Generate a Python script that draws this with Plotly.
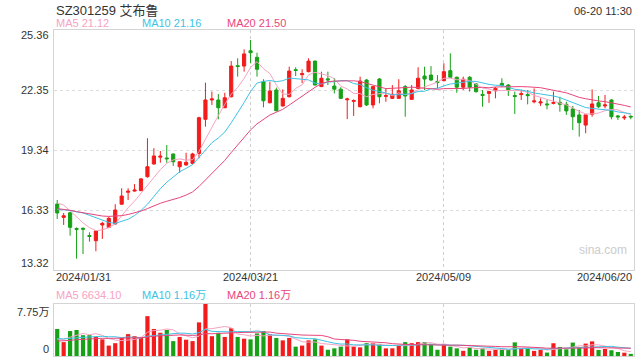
import plotly.graph_objects as go
import pandas as pd

# ---------------- data ----------------
dates = [
    "2024-01-31",
    "2024-02-01", "2024-02-02", "2024-02-05", "2024-02-06", "2024-02-07", "2024-02-08",
    "2024-02-19", "2024-02-20", "2024-02-21", "2024-02-22", "2024-02-23",
    "2024-02-26", "2024-02-27", "2024-02-28", "2024-02-29",
    "2024-03-01", "2024-03-04", "2024-03-05", "2024-03-06", "2024-03-07", "2024-03-08",
    "2024-03-11", "2024-03-12", "2024-03-13", "2024-03-14", "2024-03-15",
    "2024-03-18", "2024-03-19", "2024-03-20", "2024-03-21", "2024-03-22",
    "2024-03-25", "2024-03-26", "2024-03-27", "2024-03-28", "2024-03-29",
    "2024-04-01", "2024-04-02", "2024-04-03",
    "2024-04-08", "2024-04-09", "2024-04-10", "2024-04-11", "2024-04-12",
    "2024-04-15", "2024-04-16", "2024-04-17", "2024-04-18", "2024-04-19",
    "2024-04-22", "2024-04-23", "2024-04-24", "2024-04-25", "2024-04-26",
    "2024-04-29", "2024-04-30",
    "2024-05-06", "2024-05-07", "2024-05-08", "2024-05-09", "2024-05-10",
    "2024-05-13", "2024-05-14", "2024-05-15", "2024-05-16", "2024-05-17",
    "2024-05-20", "2024-05-21", "2024-05-22", "2024-05-23", "2024-05-24",
    "2024-05-27", "2024-05-28", "2024-05-29", "2024-05-30", "2024-05-31",
    "2024-06-03", "2024-06-04", "2024-06-05", "2024-06-06", "2024-06-07",
    "2024-06-11", "2024-06-12", "2024-06-13", "2024-06-14",
    "2024-06-17", "2024-06-18", "2024-06-19", "2024-06-20",
]

open_ = [16.63, 15.96, 16.19, 15.40, 15.41, 15.05, 14.79, 15.58, 15.46, 15.63,
         16.62, 17.22, 17.28, 17.30, 18.00, 18.64, 18.98, 18.94, 19.14, 18.50,
         18.59, 18.67, 19.17, 20.88, 21.85, 21.85, 21.46, 22.01, 23.57, 23.55,
         24.32, 23.99, 22.77, 21.71, 22.35, 21.55, 22.01, 23.37, 23.12, 23.27,
         23.80, 22.52, 22.91, 22.55, 22.39, 21.86, 21.78, 21.51, 22.85, 21.60,
         22.90, 22.03, 21.93, 21.93, 22.52, 21.88, 22.43, 23.05, 23.10, 22.78,
         22.82, 23.32, 22.99, 22.49, 22.99, 22.65, 22.13, 22.18, 22.31, 22.68,
         22.60, 22.07, 22.12, 22.12, 21.76, 21.70, 21.65, 21.68, 21.73, 21.63,
         21.40, 21.10, 20.59, 21.13, 21.71, 21.55, 21.85, 21.05, 20.95, 21.03]
high = [16.83, 16.18, 16.24, 15.46, 15.46, 15.21, 15.30, 15.74, 15.99, 16.62,
        17.42, 17.42, 17.63, 17.94, 19.93, 19.43, 19.29, 19.59, 19.16, 18.78,
        19.20, 19.20, 21.01, 22.72, 22.27, 22.15, 22.21, 23.80, 23.94, 24.39,
        24.86, 24.22, 22.89, 22.77, 22.47, 22.38, 23.52, 23.49, 23.39, 23.94,
        23.82, 23.27, 23.27, 22.94, 22.49, 21.96, 21.88, 23.02, 22.90, 22.55,
        22.95, 22.43, 22.60, 22.89, 22.60, 22.60, 23.49, 23.52, 23.55, 23.10,
        23.69, 24.19, 23.02, 23.02, 23.05, 22.70, 22.35, 22.30, 22.50, 22.94,
        22.65, 22.27, 22.35, 22.35, 22.43, 21.93, 21.85, 22.27, 22.01, 21.76,
        21.55, 21.35, 21.12, 22.38, 22.05, 22.10, 21.88, 21.10, 21.10, 21.08]
low = [15.88, 15.58, 15.04, 13.89, 14.12, 14.74, 14.26, 14.88, 15.44, 15.60,
       16.60, 16.83, 17.25, 17.28, 17.95, 18.60, 18.70, 18.70, 18.54, 18.20,
       18.55, 18.62, 18.92, 20.51, 21.60, 20.88, 21.44, 21.98, 23.02, 23.27,
       23.69, 23.02, 21.48, 21.68, 21.28, 21.52, 21.98, 23.05, 22.69, 23.24,
       22.58, 22.50, 22.60, 22.18, 21.90, 20.89, 21.05, 21.48, 21.55, 21.43,
       21.68, 21.76, 21.90, 21.90, 21.01, 21.86, 22.40, 22.35, 22.80, 22.43,
       22.78, 22.95, 22.21, 22.35, 22.27, 22.21, 21.51, 21.71, 21.93, 22.50,
       22.05, 21.15, 21.85, 21.63, 21.68, 21.55, 21.38, 21.63, 21.26, 21.10,
       20.34, 20.01, 20.18, 21.01, 21.45, 21.43, 20.88, 20.85, 20.85, 20.88]
close = [16.18, 16.04, 15.46, 15.36, 15.37, 15.00, 15.28, 15.66, 15.91, 16.33,
         17.03, 17.27, 17.33, 17.89, 18.50, 19.04, 19.03, 18.90, 18.75, 18.75,
         18.72, 19.14, 20.96, 21.85, 21.90, 21.46, 21.96, 23.55, 23.53, 24.16,
         24.22, 23.39, 21.81, 22.30, 21.31, 21.93, 23.30, 23.33, 23.17, 23.80,
         22.60, 22.94, 22.86, 22.39, 21.93, 21.90, 21.82, 22.80, 21.60, 22.52,
         22.01, 22.07, 22.13, 22.31, 22.05, 22.35, 22.94, 22.90, 22.85, 22.72,
         23.27, 22.99, 22.49, 22.89, 22.49, 22.27, 22.08, 22.27, 22.43, 22.57,
         22.35, 22.03, 22.16, 22.07, 21.80, 21.75, 21.61, 21.72, 21.63, 21.30,
         21.01, 20.71, 21.10, 21.65, 21.51, 21.60, 21.01, 21.00, 20.99, 21.00]
volume = [40300, 20700, 37200, 38750, 31000, 31000, 28400, 24800, 15500, 19100,
          26900, 32600, 29500, 28400, 59400, 40300, 34600, 38750, 22200, 28400,
          24300, 22200, 50100, 77500, 29500, 34600, 28400, 41300, 28400, 25800,
          24800, 33600, 37200, 32600, 26900, 23300, 26900, 13950, 15500, 23300,
          24800, 15500, 9300, 11400, 13950, 24800, 13950, 12900, 19100, 19100,
          18100, 11400, 11400, 15500, 20700, 19100, 20700, 20700, 18100, 9300,
          18100, 13950, 11400, 7750, 12900, 9300, 11400, 7750, 9300, 9300,
          9000, 20300, 11200, 11200, 7600, 9100, 5100, 19000, 13500, 10000,
          20000, 13500, 18500, 21800, 9030, 10500, 8600, 6000, 4900, 3170.5]

# closes / volumes of the 19 sessions before the window (for moving-average warm-up)
prior_close = [16.62, 16.55, 16.70, 16.48, 16.35, 16.40, 16.52, 16.30, 16.28, 16.30,
               16.10, 15.92, 15.85, 16.05, 16.18, 16.55, 16.90, 16.95, 16.82]
prior_volume = [17000, 19500, 18000, 16500, 20000, 18500, 19000, 17500, 20500, 17500,
                26000, 29500, 25000, 28500, 26000, 22000, 20500, 23000, 19200]

ma_windows = [5, 10, 20]
price_ticks = [13.32, 16.33, 19.34, 22.35, 25.36]
vol_max_label = "7.75万"
date_ticks = ["2024-01-31", "2024-03-21", "2024-05-09", "2024-06-20"]
date_tick_text = ["2024/01/31", "2024/03/21", "2024/05/09", "2024/06/20"]
title_text = "SZ301259 艾布鲁"
time_text = "06-20 11:30"

# ---------------- styling ----------------
RED = "#f31b1b"
GREEN = "#17a117"
MA_COLORS = ["#f7a3c2", "#3ec3e3", "#e8467c"]
TXT = "#333333"
BORDER = "#d4d4d4"
FONT = "Liberation Sans, Arial, Noto Sans CJK SC, sans-serif"

W, H = 640, 360
L, R, T, B = 54, 6, 30, 4
PH = H - T - B
def py(ypix):
    return (H - B - ypix) / PH

price_dom = [py(270), 1.0]
vol_dom = [0.0, py(304)]

closes_all = pd.Series(prior_close + close)
vols_all = pd.Series(prior_volume + volume)
n0 = len(prior_close)
ma_price = [closes_all.rolling(w).mean().iloc[n0:].tolist() for w in ma_windows]
ma_vol = [vols_all.rolling(w).mean().iloc[n0:].tolist() for w in ma_windows]

def fmt_vol(v):
    return f"{v/10000:.2f}万" if v >= 10000 else f"{v:.2f}"

fig = go.Figure()
fig.add_trace(go.Candlestick(
    x=dates, open=open_, high=high, low=low, close=close,
    increasing=dict(line=dict(color=RED, width=1), fillcolor=RED),
    decreasing=dict(line=dict(color=GREEN, width=1), fillcolor=GREEN),
    whiskerwidth=0, hoverinfo="skip", xaxis="x", yaxis="y", showlegend=False,
))
for w, c, m in zip(ma_windows, MA_COLORS, ma_price):
    fig.add_trace(go.Scatter(x=dates, y=m, mode="lines", line=dict(color=c, width=1),
                             hoverinfo="skip", showlegend=False, xaxis="x", yaxis="y"))

bar_colors = [RED if c >= o else GREEN for o, c in zip(open_, close)]
fig.add_trace(go.Bar(x=dates, y=volume, marker=dict(color=bar_colors, line=dict(width=0)),
                     hoverinfo="skip", showlegend=False, xaxis="x2", yaxis="y2"))
for w, c, m in zip(ma_windows, MA_COLORS, ma_vol):
    fig.add_trace(go.Scatter(x=dates, y=m, mode="lines", line=dict(color=c, width=1),
                             hoverinfo="skip", showlegend=False, xaxis="x2", yaxis="y2"))

axis_common = dict(showline=True, mirror=True, linecolor=BORDER, linewidth=1,
                   zeroline=False, ticks="", showticklabels=False)
fig.update_layout(
    width=W, height=H, margin=dict(l=L, r=R, t=T, b=B),
    paper_bgcolor="white", plot_bgcolor="white",
    font=dict(family=FONT, size=11, color=TXT),
    bargap=0.35, boxgap=0.3,
    xaxis=dict(type="category", domain=[0, 1], anchor="y", range=[-0.5, len(dates) - 0.5],
               rangeslider=dict(visible=False), tickvals=[date_ticks[1], date_ticks[2]],
               showgrid=True, gridcolor="#cfcfcf", griddash="dot", **axis_common),
    yaxis=dict(domain=price_dom, anchor="x", range=[price_ticks[0], price_ticks[-1]],
               tickvals=price_ticks[1:-1], showgrid=True, gridcolor="#dcdcdc", griddash="dot",
               **axis_common),
    xaxis2=dict(type="category", domain=[0, 1], anchor="y2", matches="x",
                tickvals=[date_ticks[1], date_ticks[2]], showgrid=True, gridcolor="#cfcfcf",
                griddash="dot", **axis_common),
    yaxis2=dict(domain=vol_dom, anchor="x2", range=[0, max(volume)], showgrid=False,
                **axis_common),
)

ann = []
def add_text(text, x, y, xanchor="left", color=TXT, size=11, xref="paper", yref="paper", yshift=0):
    ann.append(dict(text=text, x=x, y=y, xref=xref, yref=yref, xanchor=xanchor, yanchor="middle",
                    showarrow=False, font=dict(color=color, size=size), yshift=yshift))

# title and time
add_text(title_text, 0.0, py(11), size=13)
add_text(time_text, 1.0, py(11), xanchor="right")
# price MA legend
xs = [0.0, (140 - L) / (W - L - R), (225 - L) / (W - L - R)]
for w, c, m, x in zip(ma_windows, MA_COLORS, ma_price, xs):
    add_text(f"MA{w} {m[-1]:.2f}", x, py(23), color=c)
# volume MA legend
for w, c, m, x in zip(ma_windows, MA_COLORS, ma_vol, xs):
    add_text(f"MA{w} {fmt_vol(m[-1])}", x, py(295), color=c)
# price axis labels
for i, v in enumerate(price_ticks):
    shift = -5 if i == len(price_ticks) - 1 else (7 if i == 0 else 0)
    ann.append(dict(text=f"{v:.2f}", x=0, xref="paper", y=v, yref="y", xanchor="right",
                    yanchor="middle", xshift=-3, yshift=shift, showarrow=False,
                    font=dict(size=11, color=TXT)))
# volume axis labels
ann.append(dict(text=vol_max_label, x=0, xref="paper", y=max(volume), yref="y2", xanchor="right",
                yanchor="middle", xshift=-3, yshift=-8, showarrow=False, font=dict(size=11, color=TXT)))
ann.append(dict(text="0", x=0, xref="paper", y=0, yref="y2", xanchor="right",
                yanchor="middle", xshift=-3, yshift=7, showarrow=False, font=dict(size=11, color=TXT)))
# date labels
add_text(date_tick_text[0], 0.0, py(277), xanchor="left")
add_text(date_tick_text[1], date_ticks[1], py(277), xanchor="center", xref="x")
add_text(date_tick_text[2], date_ticks[2], py(277), xanchor="center", xref="x")
add_text(date_tick_text[3], 1.0, py(277), xanchor="right")
# watermark
add_text("sina.com", (603 - L) / (W - L - R), py(250), xanchor="center", color="#cccccc", size=12)

fig.update_layout(annotations=ann)
fig.write_html("out.html", config={"displayModeBar": False},
               post_script="document.body.style.margin='0';document.body.style.overflow='hidden';")
